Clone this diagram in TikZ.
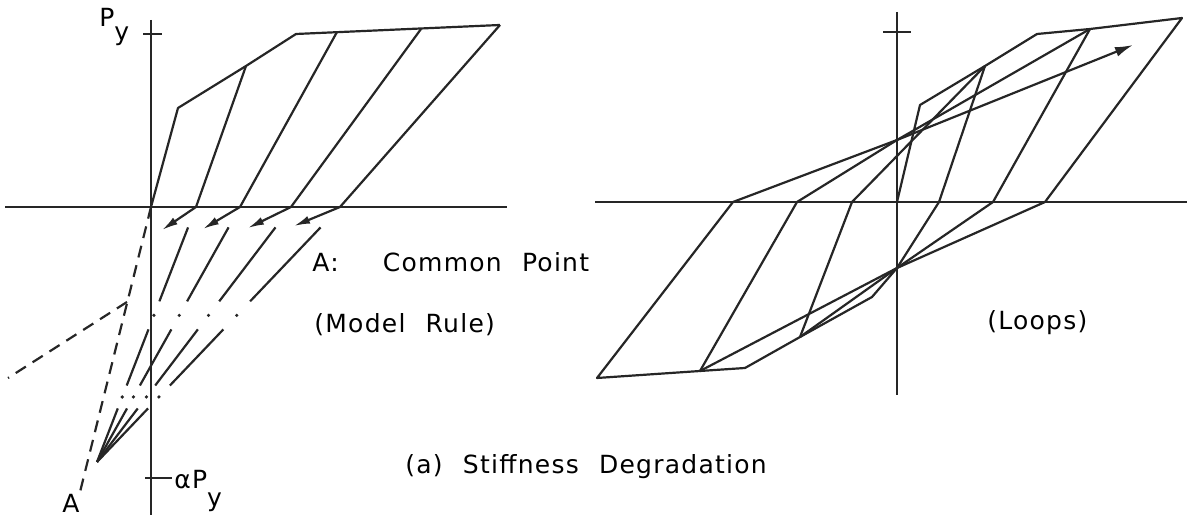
\documentclass[tikz,border=0pt]{standalone}
\usepackage{fontspec}
\newfontfamily\plotfont[LetterSpace=5,WordSpace=2.2]{DejaVu Sans}
\usetikzlibrary{arrows.meta,calc}

\begin{document}
\begin{tikzpicture}[x=0.5pt, y=-0.5pt, >={Latex[length=8pt,width=4pt]},
    axis/.style={line width=1.1pt, black!85},
    curve/.style={line width=1.1pt, black!85, line join=round},
    env/.style={curve, dash pattern=on 6pt off 4pt},
    lbl/.style={font=\plotfont\fontsize{12.5}{15}\selectfont, inner sep=0pt, anchor=base west}]
\useasboundingbox (0,0) rectangle (1187,522);

% ---- left: model rule
\coordinate (o) at (151,207);
\coordinate (e1) at (178,108);
\coordinate (e2) at (246,66);
\coordinate (e3) at (296,34);
\coordinate (e4) at (337,32);
\coordinate (e5) at (421,29);
\coordinate (e6) at (500,25);
\coordinate (c1) at (196,207);
\coordinate (c2) at (240,207);
\coordinate (c3) at (291,207);
\coordinate (c4) at (340,207);
\coordinate (t1) at (162,230);
\coordinate (t2) at (203,229);
\coordinate (t3) at (248,228);
\coordinate (t4) at (294,226);
\coordinate (a) at (97,462);
\coordinate (aend) at (80,492);
\coordinate (q1) at (127,302);
\coordinate (qend) at (8,378);

\draw[axis] (5,207) -- (507,207);
\draw[axis] (151,20) -- (151,515);
\draw[axis] (143,34) -- (162,34);
\draw[axis] (145,478) -- (172,478);

\draw[curve] (o) -- (e1) -- (e2) -- (e3) -- (e6);
\draw[curve] (e2) -- (c1);
\draw[curve] (e4) -- (c2);
\draw[curve] (e5) -- (c3);
\draw[curve] (e6) -- (c4);
\foreach \c/\t in {c1/t1,c2/t2,c3/t3,c4/t4}
  \draw[curve,->] (\c) -- (\t);

% dash-dot lines to the common point
\foreach \c in {c1,c2,c3,c4}{
  \foreach \s/\e in {0.08/0.37,0.48/0.70,0.79/1}
    \draw[curve] ($(\c)!\s!(a)$) -- ($(\c)!\e!(a)$);
  \foreach \d in {0.425,0.745}
    \fill[black!85] ($(\c)!\d!(a)$) circle (0.9pt);
}
\draw[env] (o) -- (aend);
\draw[env] (q1) -- (qend);

\node[lbl] (py) at (99,27) {P\raisebox{-7pt}{y}};
\node[lbl] (apy) at (174,489) {αP\raisebox{-9pt}{y}};
\node[lbl] (alab) at (62,513) {A};
\node[lbl] (cp) at (312,272) {A:\hspace{12pt} Common Point};
\node[lbl] (mr) at (314,333) {(Model Rule)};
\node[lbl] (cap) at (405,474) {(a) Stiffness Degradation};

% ---- right: loops
\coordinate (r0) at (897,202);
\coordinate (p1) at (920,105);
\coordinate (p2) at (985,66);
\coordinate (p3) at (1037,34);
\coordinate (p4) at (1090,29);
\coordinate (p5) at (1182,18);
\coordinate (n1) at (872,297);
\coordinate (n2) at (800,337);
\coordinate (n3) at (745,368);
\coordinate (n4) at (700,371);
\coordinate (n5) at (597,378);
\coordinate (u1) at (939,202);
\coordinate (u2) at (993,202);
\coordinate (u3) at (1045,202);
\coordinate (v1) at (852,202);
\coordinate (v2) at (797,202);
\coordinate (v3) at (733,202);
\coordinate (b) at (897,268);
\coordinate (bp) at (897,140);
\coordinate (tip) at (1133,45);

\draw[axis] (595,202) -- (1187,202);
\draw[axis] (897,12) -- (897,395);
\draw[axis] (883,32) -- (911,32);

\draw[curve] (r0) -- (p1) -- (p2) -- (p3) -- (p4) -- (p5) -- (u3) -- (b) -- (n4) -- (n5) -- (v3) -- (bp);
\draw[curve,-{Latex[length=9pt,width=5pt]}] (bp) -- (tip);
\draw[curve] (p2) -- (u1) -- (b) -- (n1) -- (n2) -- (n3) -- (n4);
\draw[curve] (n2) -- (v1) -- (p2);
\draw[curve] (p4) -- (u2) -- (b) -- (n2);
\draw[curve] (n4) -- (v2) -- (bp) -- (p4);

\node[lbl] (lp) at (987,330) {(Loops)};
\end{tikzpicture}
\end{document}
